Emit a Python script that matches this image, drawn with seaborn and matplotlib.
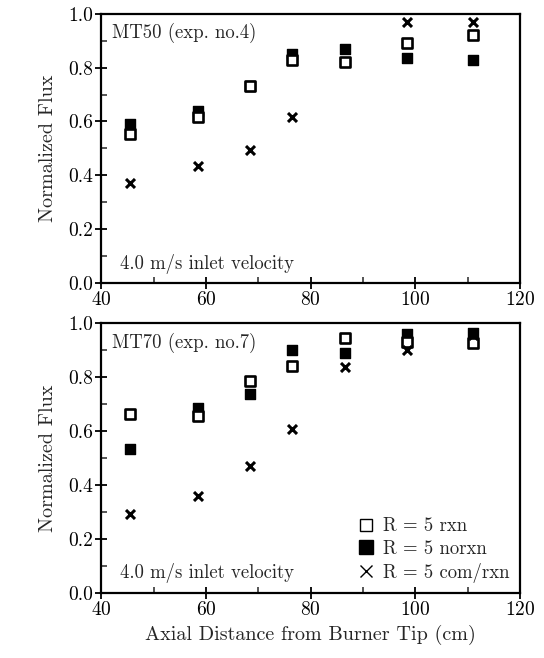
import numpy as np
import pandas as pd
import matplotlib
matplotlib.use("Agg")
import matplotlib.pyplot as plt
import seaborn as sns
from matplotlib.ticker import MultipleLocator
from matplotlib.lines import Line2D

# ---- data ----
x_pos = [45.5, 58.5, 68.5, 76.5, 86.5, 98.5, 111.0]

mt50_rxn = [0.555, 0.615, 0.73, 0.83, 0.82, 0.89, 0.92]
mt50_norxn = [0.59, 0.64, 0.73, 0.85, 0.87, 0.835, 0.83]
mt50_com_x = [45.5, 58.5, 68.5, 76.5, 98.5, 111.0]
mt50_com = [0.37, 0.434, 0.494, 0.615, 0.97, 0.97]

mt70_rxn = [0.664, 0.654, 0.786, 0.84, 0.946, 0.93, 0.928]
mt70_norxn = [0.535, 0.686, 0.738, 0.90, 0.89, 0.96, 0.963]
mt70_com = [0.294, 0.359, 0.471, 0.608, 0.836, 0.90, 0.955]

labels = ["R = 5 rxn", "R = 5 norxn", "R = 5 com/rxn"]
panel_titles = ["MT50 (exp. no.4)", "MT70 (exp. no.7)"]
velocity_note = "4.0 m/s inlet velocity"
xticks = [40, 60, 80, 100, 120]
yticks = [0.0, 0.2, 0.4, 0.6, 0.8, 1.0]

sns.set_style("white")
plt.rcParams["font.family"] = ["cmr10", "DejaVu Serif"]
plt.rcParams["axes.formatter.use_mathtext"] = True
plt.rcParams["mathtext.fontset"] = "cm"

fig = plt.figure(figsize=(5.44, 6.58), dpi=100)
ax1 = fig.add_axes([0.186, 0.570, 0.770, 0.409])
ax2 = fig.add_axes([0.186, 0.099, 0.770, 0.410])

def draw(ax, rxn, norxn, cx, com, title):
    d1 = pd.DataFrame({"x": x_pos, "y": rxn})
    d2 = pd.DataFrame({"x": x_pos, "y": norxn})
    d3 = pd.DataFrame({"x": cx, "y": com})
    sns.scatterplot(data=d2, x="x", y="y", ax=ax, marker="s", s=50,
                    color="black", edgecolor="black", linewidth=1.0, zorder=3)
    sns.scatterplot(data=d1, x="x", y="y", ax=ax, marker="s", s=42,
                    facecolor="white", edgecolor="black", linewidth=1.9, zorder=4)
    sns.scatterplot(data=d3, x="x", y="y", ax=ax, marker="x", s=42,
                    color="black", linewidth=2.2, zorder=5)
    ax.set_xlim(40, 120)
    ax.set_ylim(0.0, 1.0)
    ax.set_xticks(xticks)
    ax.set_yticks(yticks)
    ax.set_yticklabels([f"{v:.1f}" for v in yticks])
    ax.xaxis.set_minor_locator(MultipleLocator(10))
    ax.yaxis.set_minor_locator(MultipleLocator(0.1))
    ax.tick_params(axis="both", which="major", direction="inout", length=8,
                   width=1.3, labelsize=14, colors="black", left=True, bottom=True,
                   pad=2)
    ax.tick_params(axis="both", which="minor", direction="in", length=4,
                   width=1.1, left=True, bottom=True)
    for sp in ax.spines.values():
        sp.set_color("black")
        sp.set_linewidth(1.6)
    ax.set_ylabel("Normalized Flux", fontsize=14.5, labelpad=8)
    ax.set_xlabel("")
    ax.text(0.025, 0.965, title, transform=ax.transAxes, fontsize=13.5,
            va="top", ha="left")
    ax.text(0.045, 0.035, velocity_note, transform=ax.transAxes, fontsize=13.5,
            va="bottom", ha="left")

draw(ax1, mt50_rxn, mt50_norxn, mt50_com_x, mt50_com, panel_titles[0])
draw(ax2, mt70_rxn, mt70_norxn, x_pos, mt70_com, panel_titles[1])

ax2.set_xlabel("Axial Distance from Burner Tip (cm)", fontsize=14.5, labelpad=4)

handles = [
    Line2D([], [], marker="s", linestyle="none", markersize=9,
           markerfacecolor="white", markeredgecolor="black", markeredgewidth=1.0),
    Line2D([], [], marker="s", linestyle="none", markersize=10,
           markerfacecolor="black", markeredgecolor="black"),
    Line2D([], [], marker="x", linestyle="none", markersize=8,
           color="black", markeredgewidth=1.0),
]
ax2.legend(handles, labels, loc="lower right", frameon=False, fontsize=13.5,
           handletextpad=0.3, labelspacing=0.25, borderaxespad=0.15,
           handlelength=1.2)

fig.savefig("out.png", dpi=100, facecolor="white")
